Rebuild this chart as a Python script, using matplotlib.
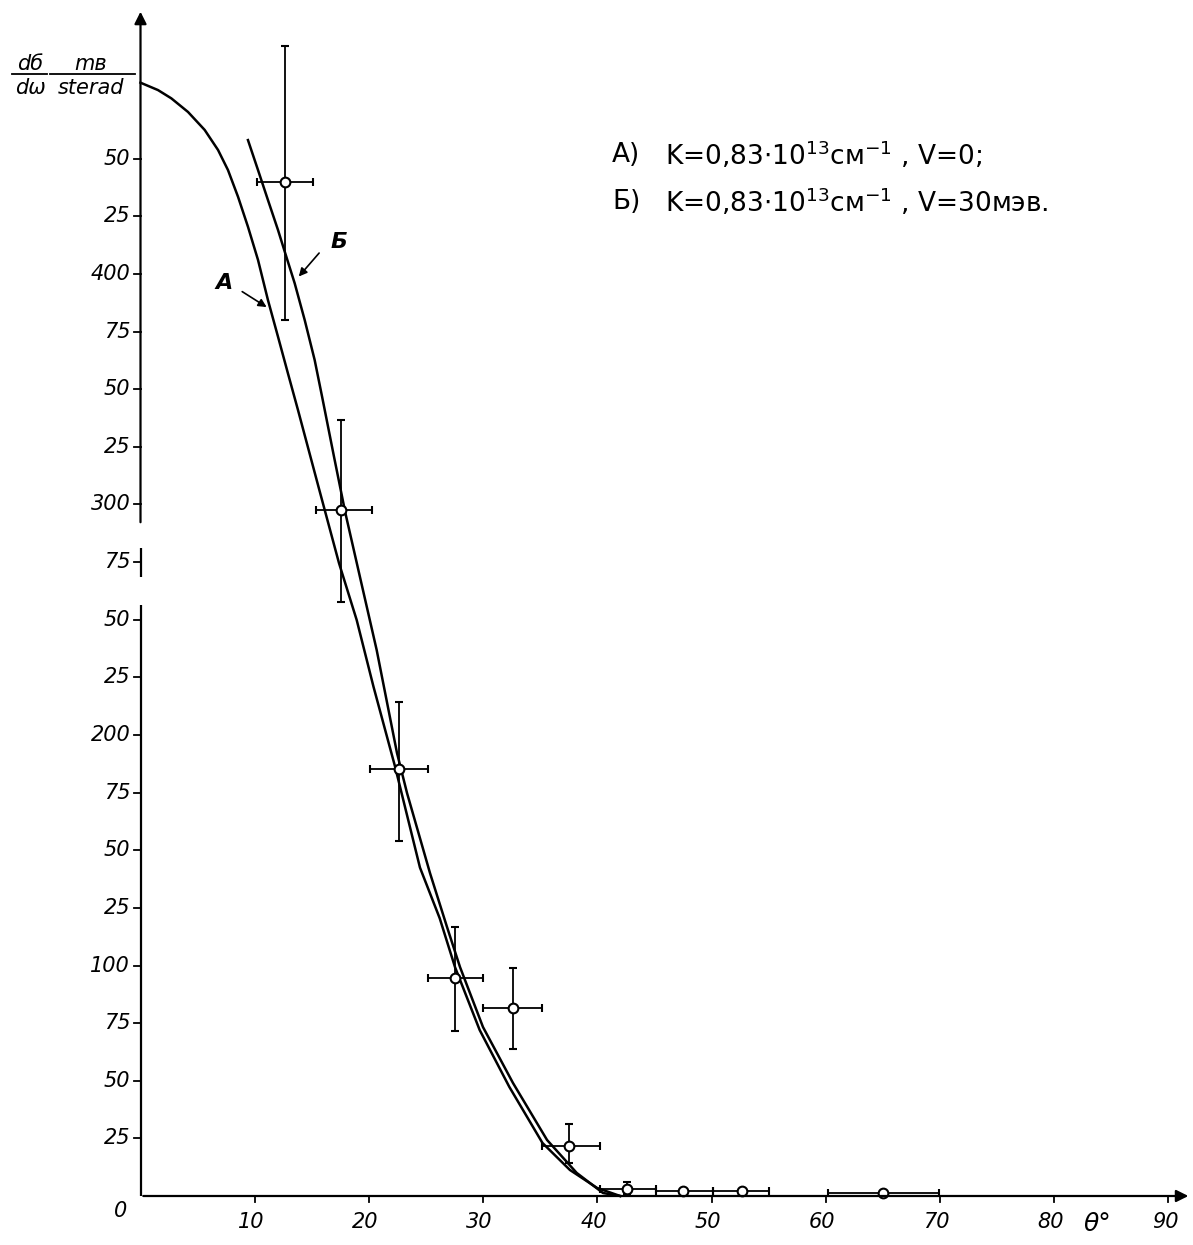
import matplotlib
matplotlib.use("Agg")
import matplotlib.pyplot as plt
import numpy as np

# measured points (theta in degrees, dsigma/domega in mb/sterad)
theta = [12.65, 17.6, 22.6, 27.5, 32.6, 37.5, 42.6, 47.5, 52.7, 65.0]
sigma = [440, 297.6, 185.2, 94.6, 81.6, 21.7, 3.0, 2.2, 2.2, 1.3]
sig_hi = [499, 336.6, 214.3, 116.7, 98.9, 31.2, 6.0, 2.2, 2.2, 1.3]
sig_lo = [380, 257.7, 154.0, 71.6, 63.8, 14.3, 1.0, 2.2, 2.2, 1.3]
th_lo = [10.2, 15.4, 20.1, 25.2, 30.0, 35.2, 40.2, 45.1, 50.1, 60.2]
th_hi = [15.1, 20.3, 25.2, 30.0, 35.2, 40.2, 45.1, 50.1, 55.0, 69.9]

# curve A: V = 0
theta_a = [0.0, 1.53, 2.70, 4.16, 5.62, 6.79, 7.66, 8.54, 9.41, 10.29, 11.16, 12.04,
           12.91, 13.79, 15.59, 17.38, 18.93, 20.4, 22.29, 24.47, 26.2, 27.54, 29.7,
           32.3, 35.2, 37.6, 39.98, 42.0]
sigma_a = [483, 479.8, 476.2, 470.3, 462.5, 453.8, 445.1, 433.5, 420.5, 406.1, 388.7,
           372.8, 356.9, 341.0, 307.6, 274.6, 249.9, 221.0, 186.3, 142.5, 120.5, 99.3,
           72, 47.3, 23, 11.3, 3.5, 0]

# curve B: V = 30 MeV
theta_b = [9.41, 10.29, 11.16, 12.04, 12.63, 13.50, 14.38, 15.25, 15.90, 16.95, 17.94,
           19.22, 20.68, 22.46, 23.34, 25.35, 26.84, 27.98, 29.99, 32.62, 35.6, 38.2,
           40.5, 42.0]
sigma_b = [458.1, 445.1, 432.1, 419.1, 409.7, 396.0, 380.0, 362.7, 346.8, 320.6, 296.3,
           268.5, 236.9, 192.2, 174.8, 140.1, 116.7, 99.3, 73.3, 49.0, 24.3, 10.0,
           1.3, 0]

x_ticks = [10, 20, 30, 40, 50, 60, 70, 80, 90]
y_ticks = [25, 50, 75, 100, 125, 150, 175, 200, 225, 250, 275, 300, 325, 350, 375, 400, 425, 450]
y_labels = ["25", "50", "75", "100", "25", "50", "75", "200", "25", "50", "75", "300",
            "25", "50", "75", "400", "25", "50"]

W, H = 1193, 1245


def px(x, y):
    return x / W, 1 - y / H


fig = plt.figure(figsize=(W / 100, H / 100), dpi=100)
ax = fig.add_axes([140.5 / W, 49 / H, 92 * 11.42 / W, 520 * 2.305 / H])
ax.set_xlim(0, 92)
ax.set_ylim(0, 520)
ax.axis("off")

ink = "black"
tick_font = dict(fontsize=15, style="italic", color=ink)

# axes with arrows; the y axis has two breaks
ax.annotate("", xy=(92, 0), xytext=(0, 0),
            arrowprops=dict(arrowstyle="-|>", lw=1.6, color=ink, mutation_scale=18),
            annotation_clip=False)
for y0, y1 in [(0, 256.4), (268.5, 281.1)]:
    ax.plot([0, 0], [y0, y1], color=ink, lw=1.6, clip_on=False, solid_capstyle="butt")
ax.annotate("", xy=(0, 515), xytext=(0, 291.1),
            arrowprops=dict(arrowstyle="-|>", lw=1.6, color=ink, mutation_scale=18),
            annotation_clip=False)

for t in x_ticks:
    ax.plot([t, t], [0, -2.6], color=ink, lw=1.3, clip_on=False)
    ax.text(t - 0.3, -7, str(t), ha="center", va="top", **tick_font)
for t, lab in zip(y_ticks, y_labels):
    ax.plot([0, -0.55], [t, t], color=ink, lw=1.3, clip_on=False)
    ax.text(-0.9, t, lab, ha="right", va="center", **tick_font)
ax.text(-1.2, -2, "0", ha="right", va="top", **tick_font)
ax.text((1097 - 140.5) / 11.42, (1196 - 1224) / 2.305, "θ°", ha="center",
        va="center", fontsize=18, style="italic", color=ink)

# theory curves
ax.plot(theta_a, sigma_a, color=ink, lw=1.8, clip_on=False, solid_joinstyle="round")
ax.plot(theta_b, sigma_b, color=ink, lw=1.8, clip_on=False, solid_joinstyle="round")

# data with error bars
sigma = np.array(sigma)
theta = np.array(theta)
yerr = [sigma - np.array(sig_lo), np.array(sig_hi) - sigma]
xerr = [theta - np.array(th_lo), np.array(th_hi) - theta]
ax.errorbar(theta, sigma, yerr=yerr, xerr=xerr, fmt="o", color=ink, ms=7,
            mfc="white", mec=ink, mew=1.5, elinewidth=1.3, capsize=3, capthick=1.3,
            clip_on=False)

# curve labels
ax.annotate("", xy=(11.25, 385), xytext=(8.7, 393),
            arrowprops=dict(arrowstyle="-|>", lw=1.2, color=ink, mutation_scale=12))
ax.text(7.3, 396, "A", fontsize=16, style="italic", fontweight="bold",
        ha="center", va="center", color=ink)
ax.annotate("", xy=(13.7, 398), xytext=(15.8, 410),
            arrowprops=dict(arrowstyle="-|>", lw=1.2, color=ink, mutation_scale=12))
ax.text(17.4, 414, "Б", fontsize=16, style="italic", fontweight="bold",
        ha="center", va="center", color=ink)

# y label as two fractions
lab = dict(fontsize=15, style="italic", color=ink, ha="center")
fig.text(*px(30, 70), "dб", va="baseline", **lab)
fig.text(*px(30, 78), "dω", va="top", **lab)
fig.add_artist(plt.Line2D([px(12, 0)[0], px(47, 0)[0]], [px(0, 74)[1]] * 2, color=ink, lw=1.3))
fig.text(*px(91, 70), "mв", va="baseline", **lab)
fig.text(*px(91, 78), "sterad", va="top", **lab)
fig.add_artist(plt.Line2D([px(50, 0)[0], px(135, 0)[0]], [px(0, 74)[1]] * 2, color=ink, lw=1.3))

# legend text
leg = dict(fontsize=19, color=ink, va="center")
fig.text(*px(612, 155), "A)", **leg)
fig.text(*px(665, 155), r"K=0,83$\cdot$10$^{13}$см$^{-1}$ , V=0;", **leg)
fig.text(*px(612, 202), "Б)", **leg)
fig.text(*px(665, 202), r"K=0,83$\cdot$10$^{13}$см$^{-1}$ , V=30мэв.", **leg)

fig.savefig("out.png", dpi=100)
